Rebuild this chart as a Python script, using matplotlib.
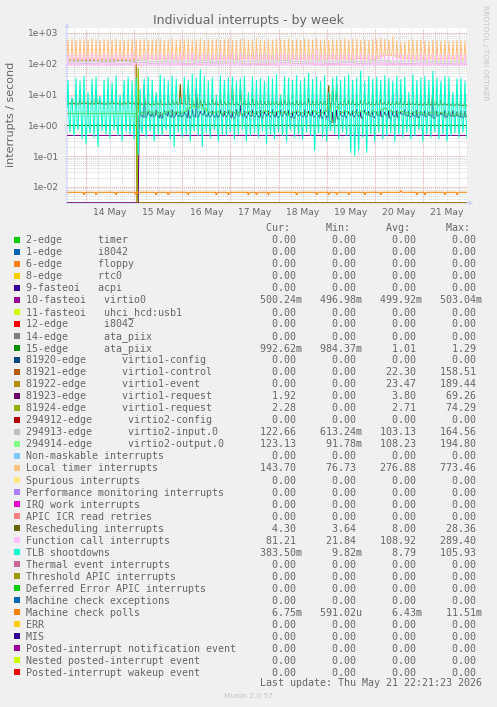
import numpy as np
import matplotlib
matplotlib.use("Agg")
import matplotlib.pyplot as plt
import matplotlib.dates as mdates
from matplotlib.patches import Rectangle
from matplotlib.ticker import LogLocator, NullFormatter, FuncFormatter

W, H = 497, 707

# ---------------- legend: names, munin palette, printed stats ----------------
labels = [
    "2-edge      timer", "1-edge      i8042", "6-edge      floppy", "8-edge      rtc0",
    "9-fasteoi   acpi", "10-fasteoi   virtio0", "11-fasteoi   uhci_hcd:usb1",
    "12-edge      i8042", "14-edge      ata_piix", "15-edge      ata_piix",
    "81920-edge      virtio1-config", "81921-edge      virtio1-control",
    "81922-edge      virtio1-event", "81923-edge      virtio1-request",
    "81924-edge      virtio1-request", "294912-edge      virtio2-config",
    "294913-edge      virtio2-input.0", "294914-edge      virtio2-output.0",
    "Non-maskable interrupts", "Local timer interrupts", "Spurious interrupts",
    "Performance monitoring interrupts", "IRQ work interrupts", "APIC ICR read retries",
    "Rescheduling interrupts", "Function call interrupts", "TLB shootdowns",
    "Thermal event interrupts", "Threshold APIC interrupts",
    "Deferred Error APIC interrupts", "Machine check exceptions", "Machine check polls",
    "ERR", "MIS", "Posted-interrupt notification event", "Nested posted-interrupt event",
    "Posted-interrupt wakeup event",
]
colors = [
    "#00CC00", "#0066B3", "#FF8000", "#FFCC00", "#330099", "#990099", "#CCFF00",
    "#FF0000", "#808080", "#008F00", "#00487D", "#B35A00", "#B38F00", "#6B006B",
    "#8FB300", "#B30000", "#BEBEBE", "#80FF80", "#80C9FF", "#FFC080", "#FFE680",
    "#AA80FF", "#EE00CC", "#FF8080", "#666600", "#FFBFFF", "#00FFCC", "#CC6699",
    "#999900", "#00CC00", "#0066B3", "#FF8000", "#FFCC00", "#330099", "#990099",
    "#CCFF00", "#FF0000",
]
z = "0.00"
cur_s = [z, z, z, z, z, "500.24m", z, z, z, "992.62m", z, z, z, "1.92", "2.28", z,
         "122.66", "123.13", z, "143.70", z, z, z, z, "4.30", "81.21", "383.50m",
         z, z, z, z, "6.75m", z, z, z, z, z]
min_s = [z, z, z, z, z, "496.98m", z, z, z, "984.37m", z, z, z, z, z, z,
         "613.24m", "91.78m", z, "76.73", z, z, z, z, "3.64", "21.84", "9.82m",
         z, z, z, z, "591.02u", z, z, z, z, z]
avg_s = [z, z, z, z, z, "499.92m", z, z, z, "1.01", z, "22.30", "23.47", "3.80", "2.71", z,
         "103.13", "108.23", z, "276.88", z, z, z, z, "8.00", "108.92", "8.79",
         z, z, z, z, "6.43m", z, z, z, z, z]
max_s = [z, z, z, z, z, "503.04m", z, z, z, "1.29", z, "158.51", "189.44", "69.26", "74.29", z,
         "164.56", "194.80", z, "773.46", z, z, z, z, "28.36", "289.40", "105.93",
         z, z, z, z, "11.51m", z, z, z, z, z]

# ---------------- data: 30-minute RRD steps, 2-hour cycles ----------------
times = np.datetime64("2026-05-13T14:30") + np.arange(400) * np.timedelta64(30, "m")

lt_peak = [610, 650, 590, 640, 620, 600, 660, 630, 580, 640,
           620, 600, 650, 610, 590, 640, 630, 600, 620, 650,
           600, 630, 610, 640, 590, 620, 650, 600, 630, 610,
           640, 600, 620, 660, 590, 630, 610, 640, 600, 620,
           650, 610, 590, 630, 640, 600, 620, 650, 610, 590,
           630, 600, 640, 620, 610, 650, 590, 630, 600, 640,
           620, 610, 650, 600, 630, 590, 640, 620, 600, 650,
           610, 630, 640, 600, 620, 590, 650, 610, 700, 640,
           600, 773, 560, 520, 540, 600, 620, 580, 600, 560,
           540, 600, 580, 550, 570, 540, 560, 580, 550, 560]
lt_base = [145, 140, 150, 138, 142, 148, 140, 135, 150, 144,
           140, 146, 138, 150, 142, 140, 148, 136, 145, 140,
           150, 142, 138, 146, 140, 150, 144, 138, 142, 148,
           140, 136, 150, 142, 146, 140, 138, 148, 142, 140,
           150, 144, 138, 142, 146, 140, 150, 136, 142, 148,
           140, 146, 138, 150, 142, 140, 148, 138, 145, 140,
           142, 150, 138, 146, 140, 144, 150, 138, 142, 148,
           140, 136, 150, 142, 146, 140, 138, 148, 175, 190,
           185, 180, 165, 150, 150, 145, 150, 140, 146, 142,
           150, 144, 138, 146, 140, 148, 142, 150, 140, 145]

fc_peak = [200, 215, 190, 225, 205, 195, 230, 210, 185, 220,
           205, 195, 240, 200, 190, 215, 225, 200, 180, 210,
           220, 195, 205, 230, 190, 210, 215, 200, 225, 195,
           210, 235, 200, 190, 220, 205, 215, 195, 230, 200,
           190, 215, 205, 225, 200, 195, 210, 240, 200, 215,
           205, 190, 220, 210, 230, 195, 215, 200, 205, 225,
           195, 210, 289, 200, 215, 190, 225, 205, 210, 195,
           220, 200, 215, 230, 190, 210, 205, 195, 215, 205,
           210, 200, 220, 210, 200, 215, 195, 205, 220, 200,
           210, 195, 215, 205, 200, 220, 190, 210, 205, 200]
fc_base = [88, 92, 85, 90, 94, 87, 91, 86, 93, 89,
           90, 86, 92, 88, 95, 87, 89, 91, 85, 90,
           92, 88, 86, 94, 89, 91, 87, 93, 88, 90,
           86, 92, 89, 87, 95, 88, 90, 86, 92, 89,
           91, 87, 93, 88, 90, 86, 94, 89, 91, 87,
           88, 92, 86, 90, 93, 87, 89, 91, 85, 92,
           90, 88, 94, 86, 91, 89, 87, 93, 88, 90,
           92, 86, 89, 91, 87, 95, 88, 90, 92, 89,
           91, 88, 93, 90, 88, 92, 86, 90, 89, 91,
           87, 93, 88, 90, 86, 92, 89, 87, 91, 88]

res_peak = [6.5, 7.0, 6.0, 7.5, 6.5, 6.0, 7.0, 15, 6.5, 7.0,
            6.0, 7.5, 6.5, 7.0, 6.0, 6.5, 7.0, 6.0, 6.5, 7.0,
            6.0, 7.5, 6.5, 7.0, 6.0, 6.5, 7.0, 6.0, 22, 18,
            20, 7.0, 14, 6.5, 7.0, 6.0, 7.5, 6.5, 7.0, 6.0,
            6.5, 20, 6.0, 18, 7.0, 6.0, 7.5, 6.5, 7.0, 6.0,
            6.5, 7.0, 6.0, 7.5, 6.5, 7.0, 6.0, 6.5, 7.0, 6.0,
            7.5, 6.5, 7.0, 6.0, 6.5, 20, 20, 22, 6.0, 7.5,
            6.5, 7.0, 6.0, 6.5, 7.0, 6.0, 7.5, 6.5, 7.0, 6.0,
            6.5, 7.0, 6.0, 7.5, 6.5, 7.0, 6.0, 6.5, 7.0, 6.0,
            7.5, 14, 6.5, 7.0, 6.0, 6.5, 7.0, 6.0, 6.5, 6.0]
res_base = [5.0, 5.1, 4.9, 5.0, 5.2, 5.0, 4.9, 5.1, 5.0, 4.9,
            5.0, 5.1, 5.0, 4.9, 5.0, 5.2, 5.0, 4.9, 4.8, 4.9,
            4.8, 4.7, 4.9, 4.8, 4.8, 4.7, 4.9, 4.8, 5.0, 4.9,
            4.8, 4.7, 4.9, 4.8, 4.7, 4.8, 4.9, 4.8, 4.7, 4.8,
            4.9, 4.8, 4.7, 4.9, 4.8, 4.8, 4.7, 4.9, 4.8, 4.7,
            4.8, 4.9, 4.8, 4.7, 4.8, 4.9, 4.8, 4.7, 4.8, 4.9,
            4.8, 4.7, 4.8, 4.9, 4.8, 5.0, 4.9, 4.8, 4.7, 4.8,
            4.9, 4.8, 4.7, 4.8, 4.9, 4.8, 4.7, 4.8, 4.9, 4.8,
            4.7, 4.8, 4.9, 4.8, 4.7, 4.8, 4.8, 4.7, 4.6, 4.7,
            4.6, 4.7, 4.6, 4.6, 4.7, 4.6, 4.5, 4.6, 4.4, 4.3]

tlb_peak = [30, 8, 35, 28, 40, 12, 33, 38, 9, 30,
            36, 25, 42, 10, 30, 38, 28, 35, 15, 32,
            38, 30, 12, 45, 35, 28, 40, 33, 8, 38,
            30, 48, 35, 65, 40, 28, 36, 10, 42, 30,
            35, 38, 28, 33, 40, 12, 38, 30, 35, 28,
            40, 33, 45, 10, 38, 35, 30, 42, 28, 36,
            50, 32, 38, 28, 42, 12, 35, 40, 30, 38,
            45, 30, 35, 60, 28, 40, 33, 38, 30, 42,
            35, 28, 40, 32, 38, 12, 45, 30, 36, 40,
            30, 58, 35, 28, 40, 38, 12, 33, 35, 28]
tlb_a = [3.5, 4.0, 2.5, 5.0, 3.0, 2.0, 4.5, 3.0, 6.0, 2.5,
         3.5, 4.5, 2.0, 3.0, 5.0, 3.5, 2.5, 4.0, 1.5, 3.0,
         4.0, 2.5, 5.5, 3.0, 2.0, 4.0, 3.5, 6.0, 2.5, 3.0,
         4.5, 2.0, 3.5, 5.0, 3.0, 2.5, 4.0, 1.8, 3.5, 5.0,
         2.5, 4.0, 3.0, 6.0, 2.0, 3.5, 4.5, 2.5, 3.0, 5.0,
         3.5, 2.0, 4.0, 3.0, 5.5, 2.5, 3.5, 4.0, 2.0, 3.0,
         5.0, 3.5, 2.5, 4.5, 3.0, 2.0, 4.0, 6.0, 3.0, 2.5,
         4.0, 3.5, 2.0, 5.0, 3.0, 4.5, 2.5, 3.5, 6.0, 4.0,
         5.0, 3.5, 6.0, 4.5, 3.0, 2.5, 4.0, 3.5, 2.0, 3.0,
         4.5, 2.5, 3.5, 5.0, 3.0, 2.0, 4.0, 3.5, 2.5, 3.0]
tlb_b = [1.5, 2.0, 1.2, 2.5, 1.8, 1.0, 2.2, 1.4, 3.0, 1.3,
         1.8, 2.4, 1.1, 1.6, 2.6, 1.9, 1.3, 2.1, 0.9, 1.6,
         2.0, 1.3, 2.8, 1.7, 1.1, 2.2, 1.8, 3.2, 1.4, 1.6,
         2.3, 1.1, 1.9, 2.7, 1.6, 1.3, 2.1, 1.0, 1.8, 2.6,
         1.4, 2.1, 1.6, 3.1, 1.1, 1.9, 2.4, 1.3, 1.7, 2.6,
         1.8, 1.1, 2.2, 1.6, 2.9, 1.4, 1.9, 2.1, 1.1, 1.6,
         2.6, 1.9, 1.3, 2.4, 1.6, 1.1, 2.1, 3.1, 1.6, 1.3,
         2.1, 1.8, 1.1, 2.6, 1.6, 2.4, 1.3, 1.9, 3.2, 2.2,
         2.7, 1.9, 3.1, 2.4, 1.6, 1.3, 2.1, 1.9, 1.1, 1.6,
         2.4, 1.3, 1.9, 2.6, 1.6, 1.1, 2.1, 1.8, 1.3, 1.6]
tlb_low = [0.6, 0.45, 0.7, 0.35, 0.24, 0.55, 0.4, 0.2, 0.65, 0.5,
           0.38, 0.7, 0.45, 0.3, 0.6, 0.5, 0.35, 0.11, 0.55, 0.4,
           0.65, 0.3, 0.5, 0.45, 0.7, 0.35, 0.2, 0.6, 0.4, 0.5,
           0.3, 0.65, 0.45, 0.2, 0.55, 0.38, 0.7, 0.3, 0.5, 0.45,
           0.6, 0.35, 0.5, 0.7, 0.3, 0.45, 0.55, 0.4, 0.65, 0.25,
           0.5, 0.35, 0.6, 0.45, 0.3, 0.7, 0.4, 0.5, 0.35, 0.6,
           0.45, 0.15, 0.55, 0.4, 0.3, 0.65, 0.5, 0.35, 0.6, 0.45,
           0.13, 0.1, 0.15, 0.4, 0.13, 0.5, 0.3, 0.6, 0.35, 0.45,
           0.55, 0.3, 0.5, 0.4, 0.6, 0.35, 0.45, 0.7, 0.3, 0.5,
           0.4, 0.6, 0.35, 0.5, 0.3, 0.45, 0.55, 0.4, 0.6, 0.38]

# machine check polls, in milli-interrupts/s
mcp_base = [6.7] * 100
mcp_dip = [6.7, 6.7, 6.7, 6.7, 5.5, 6.7, 6.7, 5.5, 6.7, 6.7,
           6.7, 6.7, 5.5, 6.7, 6.7, 6.7, 6.7, 5.5, 6.7, 6.7,
           6.7, 6.7, 5.5, 6.7, 6.7, 5.5, 6.7, 6.7, 6.7, 6.7,
           5.5, 6.7, 6.7, 6.7, 6.7, 6.7, 6.7, 5.5, 6.7, 6.7,
           5.5, 6.7, 6.7, 6.7, 6.7, 5.5, 6.7, 5.5, 6.7, 6.7,
           5.5, 6.7, 6.7, 6.7, 6.7, 6.7, 6.7, 5.5, 6.7, 6.7,
           6.7, 6.7, 5.5, 6.7, 6.7, 5.5, 6.7, 5.5, 6.7, 6.7,
           5.5, 6.7, 6.7, 6.7, 5.5, 6.7, 6.7, 6.7, 5.5, 6.7,
           6.7, 6.7, 6.7, 7.6, 6.7, 6.7, 6.7, 5.5, 6.7, 5.5,
           6.7, 6.7, 6.7, 6.7, 5.5, 6.7, 6.7, 5.5, 6.7, 6.7]

# virtio1-request queues, from the counter reset on 15 May onwards (cycles 18..99)
q923_base = [2.0, 1.8, 2.2, 1.9, 2.1, 1.7, 2.3, 2.0, 1.8, 2.1,
             1.9, 2.2, 1.7, 2.0, 1.8, 2.3, 2.1, 1.9, 2.0, 1.8,
             2.2, 1.9, 2.1, 1.7, 2.0, 2.2, 1.8, 2.1, 1.9, 2.0,
             1.7, 2.2, 1.9, 2.1, 1.8, 2.0, 2.3, 1.9, 1.7, 2.1,
             2.0, 1.8, 2.2, 1.9, 2.1, 1.7, 2.0, 1.3, 1.2, 1.6,
             2.0, 1.8, 2.2, 1.9, 2.1, 1.7, 2.3, 2.0, 1.8, 2.1,
             1.9, 2.2, 1.7, 2.0, 1.8, 2.3, 2.1, 1.9, 2.0, 1.8,
             2.2, 1.9, 2.1, 1.7, 2.0, 2.2, 1.8, 2.1, 1.9, 2.0,
             1.8, 1.9]
q923_peak = [3.0, 20, 3.0, 2.8, 3.2, 2.7, 3.1, 2.9, 3.3, 2.8,
             3.0, 2.7, 3.2, 3.4, 16, 2.9, 3.1, 2.8, 3.0, 2.7,
             3.2, 2.9, 3.1, 2.8, 3.3, 4.5, 3.0, 2.7, 3.2, 2.9,
             3.1, 2.8, 3.0, 3.3, 2.7, 3.2, 2.9, 3.1, 2.8, 3.0,
             2.7, 3.2, 2.9, 3.1, 2.8, 3.3, 3.0, 6.0, 2.7, 3.2,
             2.9, 3.1, 2.8, 3.0, 3.3, 2.7, 3.2, 2.9, 3.1, 2.8,
             3.0, 2.7, 3.2, 2.9, 3.1, 2.8, 3.3, 3.0, 2.7, 3.2,
             2.9, 3.1, 2.8, 17, 3.0, 2.7, 3.2, 2.9, 3.1, 2.8,
             3.0, 2.9]
q924_level = [2.6, 2.4, 2.8, 2.5, 2.7, 2.3, 2.6, 2.9, 2.5, 2.7,
              2.4, 2.8, 3.6, 4.2, 3.8, 4.5, 3.4, 2.7, 2.5, 2.8,
              2.4, 2.6, 2.9, 2.5, 2.7, 2.3, 2.6, 2.8, 2.4, 2.7,
              2.5, 2.9, 2.6, 2.4, 2.8, 2.5, 2.7, 2.3, 2.6, 2.8,
              2.5, 2.7, 2.4, 2.9, 2.6, 2.5, 2.8, 4.5, 1.3, 4.0,
              2.6, 2.8, 2.4, 2.7, 2.5, 2.9, 2.6, 2.4, 2.8, 2.5,
              3.2, 3.5, 3.0, 2.7, 2.5, 2.8, 2.6, 2.4, 2.7, 2.5,
              2.6, 2.3, 2.5, 2.7, 2.4, 2.6, 2.3, 2.5, 2.2, 2.4,
              2.3, 2.3]

# virtio2 input/output, one value per 8 hours
v913_level = [105, 102, 108, 100, 110, 103, 106, 101, 109, 104, 107, 100, 105,
              108, 102, 106, 103, 109, 101, 107, 104, 102, 106, 103, 105]
v914_level = [122, 118, 125, 120, 127, 119, 123, 121, 126, 118, 124, 120, 122,
              127, 119, 125, 121, 123, 118, 126, 120, 124, 122, 119, 123]


def cycles(*cols):
    """interleave per-cycle columns into the 30-minute series"""
    return np.column_stack(cols).ravel()


series = {i: np.zeros(400) for i in range(len(labels))}
series[5] = np.array([0.5] * 400)
series[9] = np.array([1.0] * 400)
series[11] = np.array([132] * 70 + [0] * 330, dtype=float)
series[12] = np.array([122] * 69 + [189] + [0] * 330, dtype=float)
series[13] = np.concatenate([[0] * 72, cycles(q923_base, q923_peak, q923_base, q923_base)])
series[14] = np.concatenate([[2.4] * 70, [0, 74], np.repeat(q924_level, 4)])
series[16] = np.repeat(v913_level, 16).astype(float)
series[17] = np.repeat(v914_level, 16).astype(float)
series[19] = cycles(lt_base, lt_peak, lt_base, lt_base)
series[24] = cycles(res_base, res_peak, res_base, res_base)
series[25] = cycles(fc_base, fc_peak, fc_base, fc_base)
series[26] = cycles(tlb_a, tlb_peak, tlb_b, tlb_low)
series[31] = cycles(mcp_base, mcp_dip, mcp_base, mcp_base) * 1e-3

ytick_vals = [1e-2, 1e-1, 1e0, 1e1, 1e2, 1e3]
ytick_labels = ["1e-02", "1e-01", "1e+00", "1e+01", "1e+02", "1e+03"]
ymin, ymax = 0.003, 1452

# ---------------- figure ----------------
fig = plt.figure(figsize=(W / 100, H / 100), dpi=100, facecolor="#F0F0F0")
ax = fig.add_axes([67 / W, 1 - 203 / H, 400 / W, 175 / H])
ax.set_facecolor("white")
for s in ax.spines.values():
    s.set_visible(False)

lw = 0.75
for i in range(len(labels)):
    v = np.clip(series[i], ymin * 1.02, None)   # rrdtool pins values below range to the floor
    ax.plot(times, v, color=colors[i], lw=lw, solid_joinstyle="miter", zorder=2)

ax.set_yscale("log")
ax.set_ylim(ymin, ymax)
ax.set_xlim(times[0], times[-1])
ax.set_yticks(ytick_vals, ytick_labels)
ax.yaxis.set_minor_locator(LogLocator(base=10, subs=np.arange(2, 10)))
ax.yaxis.set_minor_formatter(NullFormatter())

ax.xaxis.set_major_locator(mdates.DayLocator())
ax.xaxis.set_major_formatter(NullFormatter())
ax.xaxis.set_minor_locator(mdates.HourLocator(byhour=[6, 12, 18]))
ax.xaxis.set_minor_formatter(FuncFormatter(
    lambda x, pos: mdates.num2date(x).strftime("%d %b") if mdates.num2date(x).hour == 12 else ""))

dots = (0, (1, 1))
ax.grid(which="minor", color="#D6D6D6", linestyle=dots, lw=0.7)
ax.grid(which="major", color="#E4A4A4", linestyle=dots, lw=0.7)
ax.set_axisbelow(True)

font_c = "#666666"
ax.tick_params(axis="x", which="both", length=0, pad=3.6, labelsize=6.55, labelcolor=font_c)
ax.tick_params(axis="y", which="major", length=1.5, width=0.7, color="#CFD6F8",
               pad=4.5, labelsize=6.5, labelcolor=font_c)
ax.tick_params(axis="y", which="minor", length=1.5, width=0.7, color="#CFD6F8")

arrow = dict(arrowstyle="-|>", color="#CFD6F8", lw=0.8, mutation_scale=6, shrinkA=0, shrinkB=0)
ax.annotate("", xy=(0, 1.03), xytext=(0, 0), xycoords="axes fraction",
            arrowprops=arrow, annotation_clip=False, zorder=1.5)
ax.annotate("", xy=(1.016, 0), xytext=(0, 0), xycoords="axes fraction",
            arrowprops=arrow, annotation_clip=False, zorder=1.5)

# ---------------- texts ----------------
fig.text(248 / W, 1 - 24 / H, "Individual interrupts - by week", ha="center",
         va="baseline", fontsize=9, color=font_c)
fig.text(11 / W, 1 - 114 / H, "interrupts / second", rotation=90, ha="center",
         va="center", fontsize=8, color=font_c)
fig.text(485 / W, 1 - 5 / H, "RRDTOOL / TOBI OETIKER", rotation=270, ha="center",
         va="top", fontsize=5.4, color="#C4C4C4")

mono = dict(family="DejaVu Sans Mono", fontsize=7.18, color=font_c, va="baseline")
x0 = 26
fig.text(x0 / W, 1 - 231 / H,
         " " * 40 + "Cur:" + " " * 6 + "Min:" + " " * 6 + "Avg:" + " " * 6 + "Max:", **mono)


def field(s):
    return (s if s[-1].isalpha() else s + " ").rjust(10)


for i, name in enumerate(labels):
    yb = 243.3 + 12.01 * i
    row = name.ljust(36) + field(cur_s[i]) + field(min_s[i]) + field(avg_s[i]) + field(max_s[i])
    fig.text(x0 / W, 1 - yb / H, row, **mono)
    fig.patches.append(Rectangle((14 / W, 1 - (yb - 0.6) / H), 6 / W, 6 / H,
                                 transform=fig.transFigure, facecolor=colors[i],
                                 edgecolor="none"))

fig.text(x0 / W, 1 - 686 / H, " " * 39 + "Last update: Thu May 21 22:21:23 2026", **mono)
fig.text(248 / W, 1 - 698 / H, "Munin 2.0.57", ha="center", va="baseline",
         fontsize=5.4, color="#C4C4C4")

fig.savefig("out.png", dpi=100, facecolor=fig.get_facecolor())
